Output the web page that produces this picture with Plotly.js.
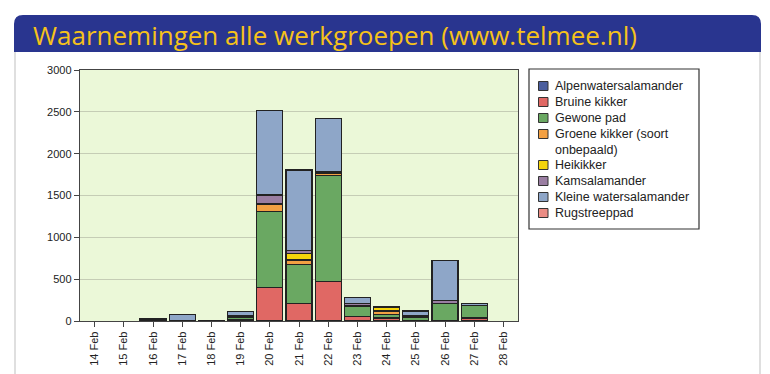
<!DOCTYPE html>
<html>
<head>
<meta charset="utf-8">
<script src="https://cdn.plot.ly/plotly-3.0.1.min.js"></script>
<style>
html,body{margin:0;padding:0;background:#fff;}
#chart{width:770px;height:374px;}
</style>
</head>
<body>
<div id="chart"></div>
<script>
// Categories (days)
var dates = ['14 Feb','15 Feb','16 Feb','17 Feb','18 Feb','19 Feb','20 Feb','21 Feb','22 Feb','23 Feb','24 Feb','25 Feb','26 Feb','27 Feb','28 Feb'];

// Series values (counts)
var alpenwatersalamander  = [0,0,0,0,0,0,0,0,0,0,0,0,0,0,0];
var bruineKikker          = [0,0,10,0,0,15,400,210,470,50,35,8,0,35,0];
var gewonePad             = [0,0,15,5,10,30,905,470,1270,130,45,40,205,155,0];
var groeneKikker          = [0,0,0,0,0,10,85,50,25,0,40,0,0,0,0];
var heikikker             = [0,0,0,0,0,0,15,80,10,0,40,0,5,0,0];
var kamsalamander         = [0,0,0,0,0,15,100,30,15,25,10,12,35,0,0];
var kleineWatersalamander = [0,0,0,75,0,45,1010,965,630,80,0,60,475,20,0];
var rugstreeppad          = [0,0,0,0,0,0,0,0,0,0,0,0,0,0,0];

// Legend labels
var seriesNames = ['Alpenwatersalamander','Bruine kikker','Gewone pad','Groene kikker (soort<br>onbepaald)','Heikikker','Kamsalamander','Kleine watersalamander','Rugstreeppad'];
var seriesValues = [alpenwatersalamander,bruineKikker,gewonePad,groeneKikker,heikikker,kamsalamander,kleineWatersalamander,rugstreeppad];
var seriesColors = ['#4b5e9e','#e06864','#6aa862','#f2a043','#f4d40c','#9a7ea2','#8ea6c8','#ea8c84'];

var traces = seriesNames.map(function(n,i){
  return {
    type:'bar', name:n.replace('<br>',' '), x:dates, y:seriesValues[i],
    marker:{color:seriesColors[i], line:{color:'#222', width:seriesValues[i].map(function(v){return v>0?1.2:0;})}},
    hoverinfo:'x+y+name', showlegend:false
  };
});

// pixel -> paper helpers for decoration
var L=80, R=518, T=70, B=321;
function px(x){return (x-L)/(R-L);}
function py(y){return (B-y)/(B-T);}

function headerPath(x0,y0,x1,y1,r){
  return 'M'+px(x0)+','+py(y1)+
    ' L'+px(x0)+','+py(y0+r)+
    ' Q'+px(x0)+','+py(y0)+' '+px(x0+r)+','+py(y0)+
    ' L'+px(x1-r)+','+py(y0)+
    ' Q'+px(x1)+','+py(y0)+' '+px(x1)+','+py(y0+r)+
    ' L'+px(x1)+','+py(y1)+' Z';
}

var shapes = [
  {type:'path', xref:'paper', yref:'paper', path:headerPath(14,15,761,52,9), fillcolor:'#29358f', line:{width:0}, layer:'above'},
  {type:'line', xref:'paper', yref:'paper', x0:px(15), x1:px(15), y0:py(52), y1:py(374), line:{color:'#d4d4d4', width:1.5}},
  {type:'line', xref:'paper', yref:'paper', x0:px(760), x1:px(760), y0:py(52), y1:py(374), line:{color:'#d4d4d4', width:1.5}},
  {type:'rect', xref:'paper', yref:'paper', x0:px(529), x1:px(699), y0:py(69), y1:py(229), fillcolor:'#ffffff', line:{color:'#333', width:1.2}, layer:'above'}
];

// Legend entries (symbol + label) built from the series names/colours
var legendY = [86,102,118,141.5,165,181,197,213];
var annotations = [];
seriesNames.forEach(function(n,i){
  var cy = (i===3) ? 134 : legendY[i];
  shapes.push({type:'rect', xref:'paper', yref:'paper', x0:px(538.5), x1:px(548), y0:py(cy-4.5), y1:py(cy+4.5),
               fillcolor:seriesColors[i], line:{color:'#333', width:1}, layer:'above'});
  annotations.push({xref:'paper', yref:'paper', x:px(553), y:py(legendY[i]), xanchor:'left', yanchor:'middle', align:'left',
                    text:n, showarrow:false, font:{family:'Liberation Sans, Arial, sans-serif', size:12.5, color:'#222'}});
});

var layout = {
  width:770, height:374,
  margin:{l:L, r:770-R, t:T, b:374-B, pad:0},
  paper_bgcolor:'#ffffff',
  plot_bgcolor:'#ebf8d8',
  barmode:'stack',
  bargap:0.11,
  showlegend:false,
  title:{text:'Waarnemingen alle werkgroepen (www.telmee.nl)', x:33/770, xref:'container', xanchor:'left', y:1-36/374, yref:'container', yanchor:'middle',
         font:{family:'Open Sans, sans-serif', size:26, color:'#f6c21a'}},
  font:{family:'Liberation Sans, Arial, sans-serif', size:11, color:'#222'},
  xaxis:{type:'category', categoryorder:'array', categoryarray:dates, tickangle:-90, ticks:'outside', ticklen:5, tickcolor:'#444', tickwidth:1,
         showline:true, linecolor:'#444', linewidth:1.2, mirror:true, showgrid:false, zeroline:false,
         tickfont:{family:'Liberation Sans, Arial, sans-serif', size:11, color:'#222'}, fixedrange:true},
  yaxis:{range:[0,3000], dtick:500, ticks:'outside', ticklen:5, tickcolor:'#444', tickwidth:1,
         showline:true, linecolor:'#444', linewidth:1.2, mirror:true, showgrid:true, gridcolor:'#c5cdb5', gridwidth:1, zeroline:false,
         tickfont:{family:'Liberation Sans, Arial, sans-serif', size:11, color:'#222'}, fixedrange:true},
  shapes:shapes,
  annotations:annotations
};

Plotly.newPlot('chart', traces, layout, {displayModeBar:false, staticPlot:true});
</script>
</body>
</html>
